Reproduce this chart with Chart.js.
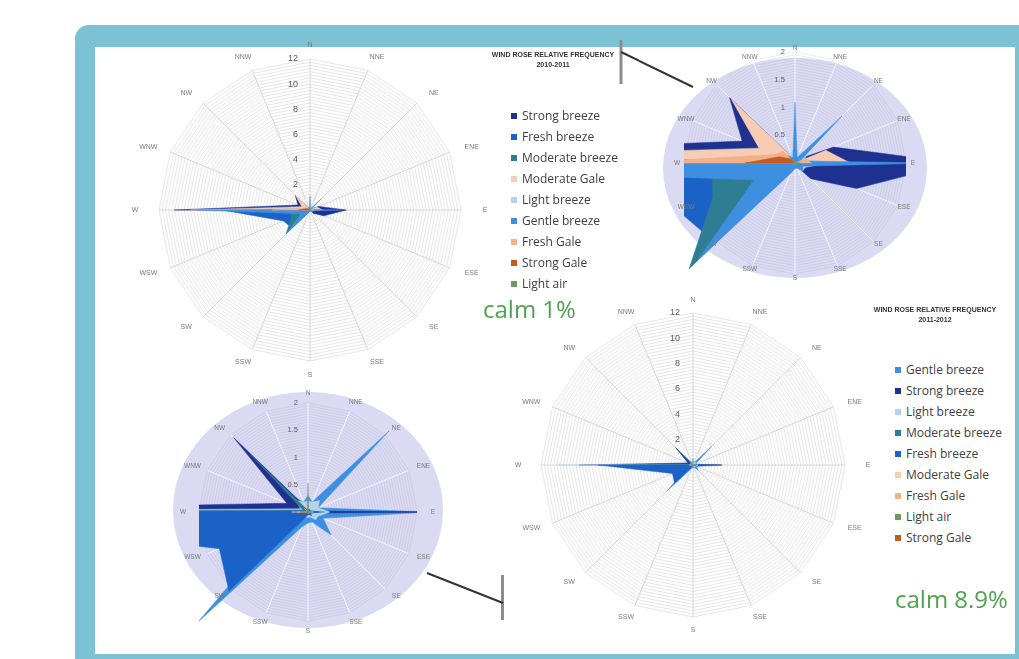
<!DOCTYPE html>
<html>
<head>
<meta charset="utf-8">
<script src="https://cdn.jsdelivr.net/npm/chart.js@4/dist/chart.umd.min.js"></script>
<style>
html,body{margin:0;padding:0;background:#fff;width:1019px;height:659px;overflow:hidden;font-family:"Open Sans",sans-serif;}
#frame{position:absolute;left:75px;top:25px;width:980px;height:660px;background:#7cc2d4;border-radius:14px;}
#panel{position:absolute;left:95px;top:47px;width:920px;height:607px;background:#fff;}
.ell{position:absolute;border-radius:50%;background:#dadaf2;}
canvas{position:absolute;}
.legend{position:absolute;font-size:12px;color:#404040;line-height:21px;}
.legend div{white-space:nowrap;}
.legend i{display:inline-block;width:6px;height:6px;margin-right:5px;vertical-align:middle;position:relative;top:-1px;}
.calm{position:absolute;color:#4fa24f;font-size:24px;line-height:24px;white-space:nowrap;}
.title{position:absolute;font:bold 7px "Liberation Sans",sans-serif;color:#333;text-align:center;line-height:10px;width:150px;}
svg{position:absolute;left:0;top:0;}
</style>
</head>
<body>
<div id="frame"></div>
<div id="panel"></div>
<div class="ell" style="left:663px;top:58px;width:264px;height:220px;"></div>
<div class="ell" style="left:173px;top:392px;width:270px;height:236px;"></div>

<canvas id="roseA" width="382" height="382" style="left:119px;top:19px;"></canvas>
<canvas id="roseB" width="292" height="292" style="left:649px;top:17px;"></canvas>
<canvas id="roseC" width="288" height="288" style="left:164px;top:368px;"></canvas>
<canvas id="roseD" width="384" height="384" style="left:501px;top:273px;"></canvas>

<div class="title" style="left:478px;top:50px;" id="titleTop"></div>
<div class="title" style="left:860px;top:305px;" id="titleBottom"></div>

<div class="legend" id="legendTop" style="left:511px;top:105px;"></div>
<div class="legend" id="legendBottom" style="left:895px;top:359px;"></div>

<div class="calm" id="calmTop" style="left:483px;top:297px;"></div>
<div class="calm" id="calmBottom" style="left:895px;top:587px;"></div>

<svg width="1019" height="659">
  <rect x="619.5" y="40" width="3" height="44" fill="#8c8c8c"/>
  <line x1="621" y1="52" x2="693" y2="87" stroke="#333" stroke-width="2"/>
  <rect x="501" y="575" width="3" height="45" fill="#8c8c8c"/>
  <line x1="427" y1="573" x2="503" y2="603" stroke="#333" stroke-width="2"/>
</svg>

<script>
// Compass directions, clockwise from north
const directions = ['N','NNE','NE','ENE','E','ESE','SE','SSE','S','SSW','SW','WSW','W','WNW','NW','NNW'];

// Relative frequency (%) per direction, season 2010-2011
const strongBreeze1011   = [0.05,0.05,0.1,0.75,2.9,1.2,0.4,0.05,0.05,0.05,0.1,0.2,10.8,1.03,1.67,0.1];
const freshBreeze1011    = [0.05,0.05,0.05,0.1,0.5,0.2,0.1,0.05,0.05,0.1,2.03,2.27,7.0,0.2,0.2,0.05];
const moderateBreeze1011 = [0.05,0.05,0.05,0.1,0.6,0.2,0.1,0.05,0.05,0.1,2.7,1.6,1.5,0.2,0.2,0.05];
const moderateGale1011   = [0,0,0,0.6,1.0,0.1,0,0,0,0,0,0.1,9.5,0.7,1.62,0.1];
const lightBreeze1011    = [0.3,0.2,0.3,0.2,0.6,0.2,0.2,0.1,0.1,0.1,0.3,0.2,0.6,0.2,0.2,0.2];
const gentleBreeze1011   = [1.1,0.1,1.2,0.1,2.5,0.15,0.2,0.1,0.1,0.2,2.5,0.8,9.0,0.2,0.2,0.1];
const freshGale1011      = [0,0,0,0.2,0.3,0,0,0,0,0,0,0,3.0,0.4,0.3,0];
const strongGale1011     = [0,0,0,0,0.1,0,0,0,0,0,0,0,0.9,0.3,0.1,0];
const lightAir1011       = [0.03,0.03,0.03,0.03,0.03,0.03,0.03,0.03,0.03,0.03,0.03,0.03,0.03,0.03,0.03,0.03];

// Relative frequency (%) per direction, season 2011-2012
const gentleBreeze1112   = [0.3,0.2,2.1,0.2,2.2,0.3,0.6,0.2,0.2,0.3,2.86,0.5,4.0,0.3,0.4,0.2];
const strongBreeze1112   = [0.05,0.05,0.05,0.05,2.3,0.05,0.05,0.05,0.05,0.05,0.1,0.1,9.0,0.42,1.93,0.1];
const lightBreeze1112    = [0.2,0.2,0.3,0.2,0.4,0.2,0.2,0.1,0.1,0.1,0.2,0.1,10.7,0.15,0.3,0.2];
const moderateBreeze1112 = [0.05,0.05,0.05,0.05,0.3,0.05,0.05,0.05,0.05,0.05,1.9,1.5,6.0,0.1,1.5,0.05];
const freshBreeze1112    = [0.05,0.05,0.05,0.05,0.2,0.05,0.1,0.05,0.05,0.1,2.05,1.76,7.5,0.05,0.1,0.05];
const moderateGale1112   = [0,0,0,0,0.1,0,0,0,0,0,0,0,0.3,0,0.1,0];
const freshGale1112      = [0,0,0,0,0,0,0,0,0,0,0,0,0.2,0,0.05,0];
const lightAir1112       = [0.53,0.03,0.03,0.03,0.03,0.03,0.03,0.03,0.03,0.03,0.03,0.03,0.03,0.03,0.03,0.03];
const strongGale1112     = [0,0,0,0,0,0,0,0,0,0,0,0,0.15,0,0,0];

// Series order as listed in each legend
const seriesNames1011 = ['Strong breeze','Fresh breeze','Moderate breeze','Moderate Gale','Light breeze','Gentle breeze','Fresh Gale','Strong Gale','Light air'];
const seriesValues1011 = [strongBreeze1011,freshBreeze1011,moderateBreeze1011,moderateGale1011,lightBreeze1011,gentleBreeze1011,freshGale1011,strongGale1011,lightAir1011];
const seriesNames1112 = ['Gentle breeze','Strong breeze','Light breeze','Moderate breeze','Fresh breeze','Moderate Gale','Fresh Gale','Light air','Strong Gale'];
const seriesValues1112 = [gentleBreeze1112,strongBreeze1112,lightBreeze1112,moderateBreeze1112,freshBreeze1112,moderateGale1112,freshGale1112,lightAir1112,strongGale1112];

// Radial tick labels
const ticksWide = [2,4,6,8,10,12];
const ticksNarrow = [0.5,1,1.5,2];

const chartTitle = 'WIND ROSE RELATIVE FREQUENCY';
const seasonTop = '2010-2011';
const seasonBottom = '2011-2012';
const calmTop = 'calm 1%';
const calmBottom = 'calm 8.9%';

const windColors = {
  'Strong breeze':'#1e3190',
  'Fresh breeze':'#1b62c6',
  'Moderate breeze':'#2f7d92',
  'Moderate Gale':'#f6cdb4',
  'Light breeze':'#b4d2f0',
  'Gentle breeze':'#3f8fe0',
  'Fresh Gale':'#f0b08c',
  'Strong Gale':'#c55a1a',
  'Light air':'#6e9a5c'
};

// Direction labels and value labels drawn around each rose
const roseDecor = {
  id: 'roseDecor',
  afterDraw(chart, args, o) {
    const s = chart.scales.r, ctx = chart.ctx, R = s.drawingArea;
    ctx.save();
    ctx.font = o.labelSize + 'px "Liberation Sans", sans-serif';
    ctx.fillStyle = '#7a7a7a';
    ctx.textAlign = 'center';
    ctx.textBaseline = 'middle';
    chart.data.labels.forEach((lab, i) => {
      const p = s.getPointPosition(i, R);
      const ux = (p.x - s.xCenter) / R, uy = (p.y - s.yCenter) / R;
      ctx.fillText(lab, s.xCenter + ux * (R + o.padX), s.yCenter + uy * (R + o.padY));
    });
    ctx.font = o.tickSize + 'px "Liberation Sans", sans-serif';
    ctx.fillStyle = '#595959';
    ctx.textAlign = 'right';
    o.ticks.forEach(v => {
      const d = s.getDistanceFromCenterForValue(v);
      ctx.fillText(String(v), s.xCenter - o.tickOffset, s.yCenter - d);
    });
    ctx.restore();
  }
};

function buildDatasets(names, values) {
  return names.map((name, i) => ({
    label: name,
    data: values[i],
    backgroundColor: windColors[name],
    borderColor: windColors[name],
    borderWidth: 0.5,
    fill: true,
    clip: 0,
    order: -i
  }));
}

function rose(id, names, values, cfg) {
  return new Chart(document.getElementById(id), {
    type: 'radar',
    data: { labels: directions, datasets: buildDatasets(names, values) },
    options: {
      responsive: false,
      animation: false,
      devicePixelRatio: 1,
      layout: { padding: cfg.pad },
      elements: { line: { tension: 0 }, point: { radius: 0, hoverRadius: 0 } },
      plugins: {
        legend: { display: false },
        tooltip: { enabled: false },
        roseDecor: cfg.decor
      },
      scales: {
        r: {
          min: 0,
          max: cfg.max,
          ticks: { display: false, stepSize: cfg.step },
          pointLabels: { display: false },
          grid: { color: cfg.gridColor, lineWidth: 1 },
          angleLines: { color: cfg.spokeColor, lineWidth: 1 }
        }
      }
    },
    plugins: [roseDecor]
  });
}

rose('roseA', seriesNames1011, seriesValues1011, {
  pad: 40, max: 12, step: 0.25, gridColor: '#e6e6e6', spokeColor: '#d6d6d6',
  decor: { labelSize: 7, padX: 24, padY: 14, ticks: ticksWide, tickSize: 9, tickOffset: 12 }
});
rose('roseB', seriesNames1011, seriesValues1011, {
  pad: 35, max: 2, step: 0.05, gridColor: 'rgba(150,150,200,0.18)', spokeColor: 'rgba(255,255,255,0.7)',
  decor: { labelSize: 6.5, padX: 7, padY: 4, ticks: ticksNarrow, tickSize: 7.5, tickOffset: 10 }
});
rose('roseC', seriesNames1112, seriesValues1112, {
  pad: 35, max: 2, step: 0.05, gridColor: 'rgba(150,150,200,0.18)', spokeColor: 'rgba(255,255,255,0.7)',
  decor: { labelSize: 6.5, padX: 16, padY: 10, ticks: ticksNarrow, tickSize: 7.5, tickOffset: 10 }
});
rose('roseD', seriesNames1112, seriesValues1112, {
  pad: 40, max: 12, step: 0.25, gridColor: '#e6e6e6', spokeColor: '#d6d6d6',
  decor: { labelSize: 7, padX: 23, padY: 13, ticks: ticksWide, tickSize: 9, tickOffset: 13 }
});

function fillLegend(id, names) {
  const box = document.getElementById(id);
  names.forEach(n => {
    const row = document.createElement('div');
    const sw = document.createElement('i');
    sw.style.background = windColors[n];
    row.appendChild(sw);
    row.appendChild(document.createTextNode(n));
    box.appendChild(row);
  });
}
fillLegend('legendTop', seriesNames1011);
fillLegend('legendBottom', seriesNames1112);

document.getElementById('titleTop').innerHTML = chartTitle + '<br>' + seasonTop;
document.getElementById('titleBottom').innerHTML = chartTitle + '<br>' + seasonBottom;
document.getElementById('calmTop').textContent = calmTop;
document.getElementById('calmBottom').textContent = calmBottom;
</script>
</body>
</html>
